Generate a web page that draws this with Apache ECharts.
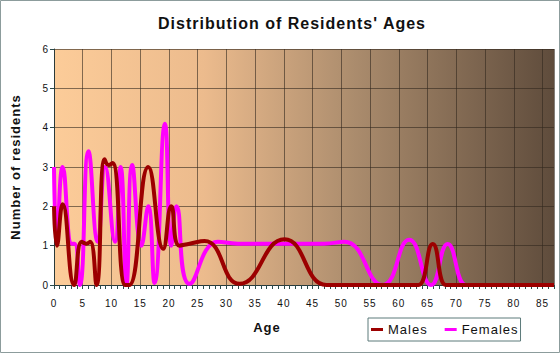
<!DOCTYPE html>
<html>
<head>
<meta charset="utf-8">
<script src="https://cdn.jsdelivr.net/npm/echarts@6/dist/echarts.min.js"></script>
<style>
  html, body { margin: 0; padding: 0; background: #fff; }
  #chart { width: 560px; height: 353px; }
  /* the original chart has loosely spaced lettering everywhere */
  #chart text { letter-spacing: 1px; }
</style>
</head>
<body>
<div id="chart"></div>
<script>
  // ages where the curves turn, and the counts
  const maleAges = [0, 0.5, 1.5, 3.5, 4.8, 5.6, 6.3, 7.4, 8.8, 9.5, 10.2, 12.4, 13.1, 16.4, 19, 20.4, 21.8, 23.6, 26.2, 32.3, 40.1, 47.4, 49, 62, 63.4, 65.9, 68.2, 69.5, 87]
  const maleCounts = [2, 1, 2.05, 0, 1.1, 1.05, 1.1, 0, 3.2, 3.05, 3.1, 0, 0, 3, 0.92, 2, 1, 1.05, 1.12, 0.03, 1.16, 0, 0, 0, 0, 1.04, 0, 0, 0]
  const femaleAges = [0, 0.5, 1.5, 3.1, 3.6, 4.5, 6.0, 7.6, 8.9, 10.6, 11.6, 12.6, 13.6, 15.2, 16.4, 17.5, 19.3, 20.4, 21.3, 23.6, 28.5, 32, 40, 47, 50.5, 57.2, 61.8, 65.6, 68.5, 71.7, 73, 87]
  const femaleCounts = [3, 1.2, 3, 1.05, 1.05, 0, 3.4, 1.1, 3.0, 1.1, 3.0, 0, 3.05, 1.0, 2.0, 0.05, 4.1, 1.0, 2.0, 0.03, 1.1, 1.05, 1.05, 1.05, 1.1, 0, 1.15, 0, 1.04, 0, 0, 0]
  const yTicks = [0, 1, 2, 3, 4, 5, 6]

  const pairs = (xs, ys) => xs.map((x, i) => [x, ys[i]])

  const chart = echarts.init(document.getElementById('chart'), null, { renderer: 'svg' })
  const font = 'Liberation Sans, Arial, sans-serif'

  chart.setOption({
    animation: false,
    backgroundColor: '#fff',
    textStyle: { fontFamily: font },
    graphic: [
      {
        type: 'rect',
        shape: { x: 0.5, y: 0.5, width: 559, height: 352 },
        style: { fill: 'none', stroke: '#8c9c9c', lineWidth: 1 },
        silent: true,
      },
    ],
    title: [
      {
        text: "Distribution of Residents' Ages",
        left: 292,
        top: 15,
        textAlign: 'center',
        padding: 0,
        textStyle: { fontSize: 16, fontWeight: 'bold', color: '#111', fontFamily: font },
      },
      {
        text: 'Age',
        left: 267,
        top: 321,
        textAlign: 'center',
        padding: 0,
        textStyle: { fontSize: 13, fontWeight: 'bold', color: '#111', fontFamily: font },
      },
    ],
    legend: {
      left: 368,
      top: 318,
      orient: 'horizontal',
      icon: 'rect',
      itemWidth: 12,
      itemHeight: 3,
      itemGap: 22,
      padding: [5, 9, 5, 3],
      borderColor: '#5c7a7a',
      borderWidth: 1,
      textStyle: { fontSize: 13, color: '#111', fontFamily: font },
      data: ['Males', 'Females'],
    },
    grid: {
      left: 54,
      right: 6,
      top: 49,
      bottom: 68,
      show: true,
      borderWidth: 0,
      backgroundColor: {
        type: 'linear',
        x: 0, y: 0, x2: 1, y2: 0,
        colorStops: [
          { offset: 0, color: '#fccc99' },
          { offset: 0.3, color: '#ecbb8d' },
          { offset: 0.6, color: '#ab8c6d' },
          { offset: 1, color: '#5f4c3c' },
        ],
      },
    },
    xAxis: [
      {
        type: 'value',
        min: 0,
        max: 87,
        interval: 5,
        axisLine: { show: true, onZero: false, lineStyle: { color: '#2a3a3a', width: 1 } },
        axisTick: { show: true, length: 4, lineStyle: { color: '#2a4a4a' } },
        axisLabel: {
          margin: 13,
          fontSize: 10,
          color: '#111',
          formatter: (v) => (v % 5 === 0 ? String(v) : ''),
        },
        splitLine: { show: true, lineStyle: { color: 'rgba(50,40,30,0.6)', width: 1 } },
      },
      {
        type: 'value',
        min: 0,
        max: 87,
        interval: 1,
        position: 'bottom',
        axisLine: { show: false },
        axisTick: { show: true, length: 4, lineStyle: { color: '#2a4a4a' } },
        axisLabel: { show: false },
        splitLine: { show: false },
      },
    ],
    yAxis: {
      type: 'value',
      min: yTicks[0],
      max: yTicks[yTicks.length - 1],
      interval: 1,
      name: 'Number of residents',
      nameLocation: 'middle',
      nameRotate: 90,
      nameGap: 32,
      nameTextStyle: { fontSize: 13, fontWeight: 'bold', color: '#111', fontFamily: font },
      axisLine: { show: true, lineStyle: { color: '#2a3a3a', width: 1 } },
      axisTick: { show: true, length: 4, lineStyle: { color: '#2a4a4a' } },
      axisLabel: { margin: 5, fontSize: 10, color: '#111' },
      splitLine: { show: true, lineStyle: { color: 'rgba(50,40,30,0.6)', width: 1 } },
    },
    series: [
      {
        name: 'Females',
        type: 'line',
        smooth: 0.5,
        symbol: 'none',
        color: '#ff00ff',
        lineStyle: { width: 4, color: '#ff00ff' },
        data: pairs(femaleAges, femaleCounts),
      },
      {
        name: 'Males',
        type: 'line',
        smooth: 0.5,
        symbol: 'none',
        color: '#9c0000',
        lineStyle: { width: 4, color: '#9c0000' },
        data: pairs(maleAges, maleCounts),
      },
    ],
  })
</script>
</body>
</html>
